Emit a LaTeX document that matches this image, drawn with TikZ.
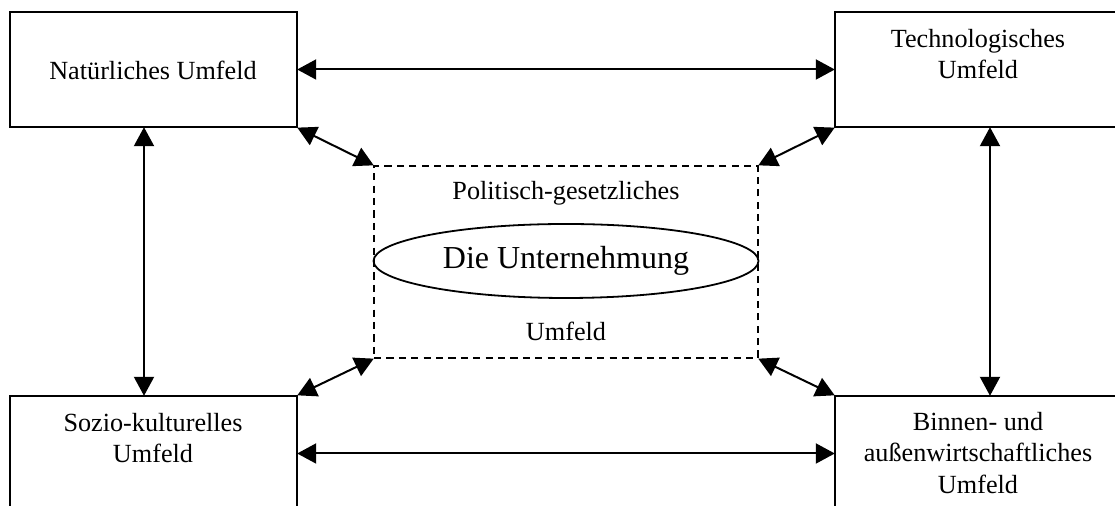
\documentclass[tikz,border=0pt]{standalone}
\usepackage{fontspec}
\setmainfont{Liberation Serif}
\usepackage{tikz}
\usetikzlibrary{shapes.geometric, arrows.meta, positioning, calc}
\newcommand{\schriftNormal}{\fontsize{13.1}{15.6}\selectfont}
\newcommand{\schriftGross}{\fontsize{16}{19}\selectfont}

\begin{document}
\begin{tikzpicture}[x = 0.5pt, y = -0.5pt,
    kasten/.style = {draw, line width = 1pt, minimum width = 143.5pt, minimum height = 57.5pt, inner sep = 0pt},
    umfeldtext/.style = {align = center, inner sep = 0pt, font = \schriftNormal},
    pfeil/.style = {line width = 1pt, {Triangle[length = 9.5pt, width = 10pt]}-{Triangle[length = 9.5pt, width = 10pt]}, shorten <= -0.4pt, shorten >= -0.4pt}]
    % Rahmen
    \useasboundingbox (0,0) rectangle (1115,506);
    \clip (0,0) rectangle (1115,506);
    % Kaesten der Umfelder
    \node[kasten] (nat) at (153.5,69.5) {};
    \node[kasten] (tech) at (978.5,69.5) {};
    \node[kasten] (sozio) at (153.5,453.5) {};
    \node[kasten] (binnen) at (978.5,453.5) {};
    \node[umfeldtext] (natT) at (153,70) {Natürliches Umfeld};
    \node[umfeldtext] (techT) at (978,54) {Technologisches\\Umfeld};
    \node[umfeldtext] (sozioT) at (153,438) {Sozio-kulturelles\\Umfeld};
    \node[umfeldtext] (binnenT) at (978,453) {Binnen- und\\außenwirtschaftliches\\Umfeld};
    % Politisch-gesetzliches Umfeld
    \node[draw, line width = 1pt, dash pattern = on 3.6pt off 2.6pt, minimum width = 192pt, minimum height = 96pt, inner sep = 0pt] (pol) at (566,262) {};
    \node[umfeldtext] (polT) at (566,193) {Politisch-gesetzliches};
    \node[umfeldtext] (polU) at (566,331) {Umfeld};
    % Die Unternehmung
    \node[ellipse, draw, line width = 0.9pt, minimum width = 192.5pt, minimum height = 37pt, inner sep = 0pt, font = \schriftGross] (unt) at (566,261) {Die Unternehmung};
    % Pfeile
    \draw[pfeil] (nat.east) -- (tech.west);
    \draw[pfeil] (sozio.east) -- (binnen.west);
    \draw[pfeil] ([xshift = -4.75pt]nat.south) -- ([xshift = -4.75pt]sozio.north);
    \draw[pfeil] ([xshift = 5.75pt]tech.south) -- ([xshift = 5.75pt]binnen.north);
    \draw[pfeil] (nat.south east) -- (pol.north west);
    \draw[pfeil] (tech.south west) -- (pol.north east);
    \draw[pfeil] (sozio.north east) -- (pol.south west);
    \draw[pfeil] (binnen.north west) -- (pol.south east);
\end{tikzpicture}
\end{document}
